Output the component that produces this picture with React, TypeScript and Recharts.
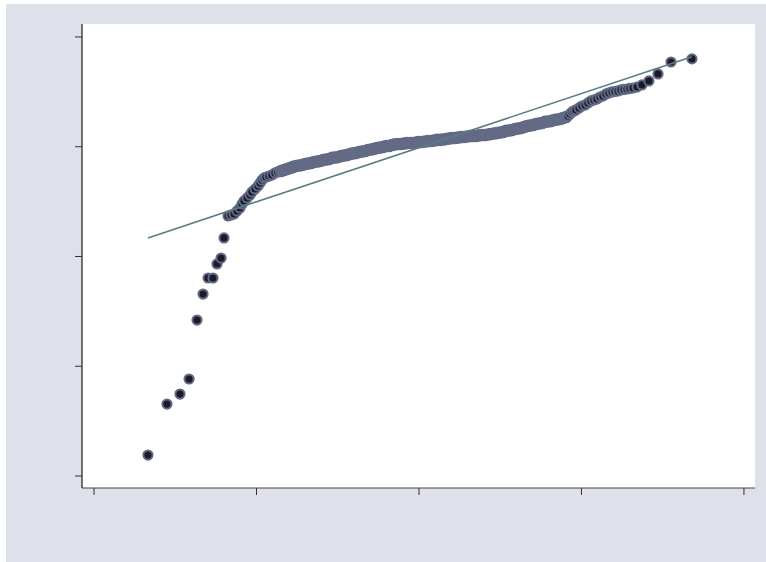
import { ComposedChart, Scatter, XAxis, YAxis, CartesianGrid } from "recharts";

// lower tail of the sample (inverse normal, observed)
const lowX = [0.332, 0.449, 0.529, 0.585, 0.634, 0.671, 0.702, 0.732, 0.757, 0.782, 0.800,
  0.825, 0.843, 0.862, 0.880, 0.898, 0.911, 0.923, 0.942, 0.960, 0.972, 0.991, 1.009, 1.022, 1.034, 1.046, 1.058, 1.077, 1.095, 1.114, 1.132];
const lowY = [0.191, 0.656, 0.747, 0.884, 1.421, 1.658, 1.804, 1.804, 1.932, 1.986, 2.169,
  2.369, 2.378, 2.387, 2.415, 2.442, 2.478, 2.506, 2.533, 2.560, 2.588, 2.615, 2.642, 2.670, 2.697, 2.715, 2.724, 2.733, 2.743, 2.761, 2.770];

// dense middle of the sample
const midX = [1.151, 1.169, 1.188, 1.206, 1.225, 1.243, 1.262, 1.280, 1.298, 1.317, 1.335, 1.354, 1.372, 1.391, 1.409, 1.428, 1.446, 1.465, 1.483, 1.502,
  1.520, 1.538, 1.557, 1.575, 1.594, 1.612, 1.631, 1.649, 1.668, 1.686, 1.705, 1.723, 1.742, 1.760, 1.778, 1.797, 1.815, 1.834, 1.852, 1.871,
  1.889, 1.908, 1.926, 1.945, 1.963, 1.982, 2.000, 2.018, 2.037, 2.055, 2.074, 2.092, 2.111, 2.129, 2.148, 2.166, 2.185, 2.203, 2.222, 2.240,
  2.258, 2.277, 2.295, 2.314, 2.332, 2.351, 2.369, 2.388, 2.406, 2.425, 2.443, 2.462, 2.480, 2.498, 2.517, 2.535, 2.554, 2.572, 2.591, 2.609,
  2.628, 2.646, 2.665, 2.683, 2.702, 2.720, 2.738, 2.757, 2.775, 2.794, 2.812, 2.831, 2.849, 2.868, 2.886, 2.905];
const midY = [2.779, 2.788, 2.797, 2.806, 2.816, 2.825, 2.829, 2.834, 2.843, 2.847, 2.852, 2.861, 2.866, 2.870, 2.879, 2.884, 2.888, 2.898, 2.902, 2.907,
  2.916, 2.920, 2.925, 2.934, 2.939, 2.943, 2.952, 2.957, 2.961, 2.970, 2.975, 2.980, 2.989, 2.993, 2.998, 3.007, 3.007, 3.016, 3.021, 3.025,
  3.025, 3.030, 3.034, 3.034, 3.034, 3.039, 3.043, 3.043, 3.048, 3.052, 3.052, 3.057, 3.062, 3.062, 3.066, 3.071, 3.075, 3.080, 3.080, 3.084,
  3.089, 3.089, 3.093, 3.098, 3.098, 3.098, 3.103, 3.107, 3.107, 3.112, 3.116, 3.121, 3.125, 3.130, 3.134, 3.144, 3.148, 3.153, 3.162, 3.166,
  3.171, 3.180, 3.189, 3.194, 3.198, 3.207, 3.212, 3.216, 3.226, 3.230, 3.235, 3.244, 3.248, 3.253, 3.262, 3.271];

// upper tail
const highX = [2.917, 2.929, 2.942, 2.954, 2.966, 2.985, 3.003, 3.022, 3.040, 3.058, 3.077, 3.095, 3.114, 3.132, 3.151, 3.169, 3.188, 3.206, 3.225,
  3.243, 3.262, 3.280, 3.298, 3.317, 3.342, 3.372, 3.415, 3.471, 3.551, 3.680];
const highY = [3.280, 3.298, 3.317, 3.326, 3.335, 3.353, 3.371, 3.380, 3.399, 3.417, 3.426, 3.435, 3.453, 3.462, 3.481, 3.490, 3.499, 3.503, 3.508,
  3.517, 3.522, 3.526, 3.531, 3.535, 3.544, 3.563, 3.599, 3.663, 3.772, 3.800];

// reference (normal) line end points
const fitX = [0.332, 3.68];
const fitY = [2.169, 3.82];

const xTicks = [0, 1, 2, 3, 4];
const yTicks = [0, 1, 2, 3, 4];

const zip = (xs: number[], ys: number[]) => xs.map((x, i) => ({ x, y: ys[i] }));

const lowData = zip(lowX, lowY);
const midData = zip(midX, midY);
const highData = zip(highX, highY);
const fitData = zip(fitX, fitY);

const RING = "#626a86";
const CORE = "#1b1b27";

const Dot = (props: any) => (
  <circle cx={props.cx} cy={props.cy} r={4.6} fill={CORE} stroke={RING} strokeWidth={2} />
);
const BandDot = (props: any) => (
  <circle cx={props.cx} cy={props.cy} r={6.3} fill={RING} stroke="none" />
);
const NoDot = () => <g />;

export default function App() {
  return (
    <div style={{ position: "absolute", left: 0, top: 0, width: 766, height: 562, background: "#fff" }}>
      <div style={{ position: "absolute", left: 6, top: 4, width: 760, height: 558, background: "#dee1ea" }}>
        <ComposedChart width={760} height={558} margin={{ top: 20, right: 11, left: 0, bottom: 0 }}>
          <CartesianGrid fill="#ffffff" stroke="none" horizontal={false} vertical={false} />
          <XAxis
            type="number"
            dataKey="x"
            domain={[-0.074, 4.068]}
            ticks={xTicks}
            height={74}
            tickSize={7}
            tickFormatter={() => ""}
            axisLine={{ stroke: "#444", strokeWidth: 1.2 }}
            tickLine={{ stroke: "#333", strokeWidth: 1 }}
            allowDataOverflow
          />
          <YAxis
            type="number"
            dataKey="y"
            domain={[-0.109, 4.118]}
            ticks={yTicks}
            width={76}
            tickSize={7}
            tickFormatter={() => ""}
            axisLine={{ stroke: "#1a1a1a", strokeWidth: 1.2 }}
            tickLine={{ stroke: "#333", strokeWidth: 1 }}
            allowDataOverflow
          />
          <Scatter data={lowData} shape={Dot} isAnimationActive={false} />
          <Scatter data={midData} shape={BandDot} isAnimationActive={false} />
          <Scatter data={highData} shape={Dot} isAnimationActive={false} />
          <Scatter
            data={fitData}
            shape={NoDot}
            line={{ stroke: "#5b7d80", strokeWidth: 1.6 }}
            isAnimationActive={false}
          />
        </ComposedChart>
      </div>
    </div>
  );
}
